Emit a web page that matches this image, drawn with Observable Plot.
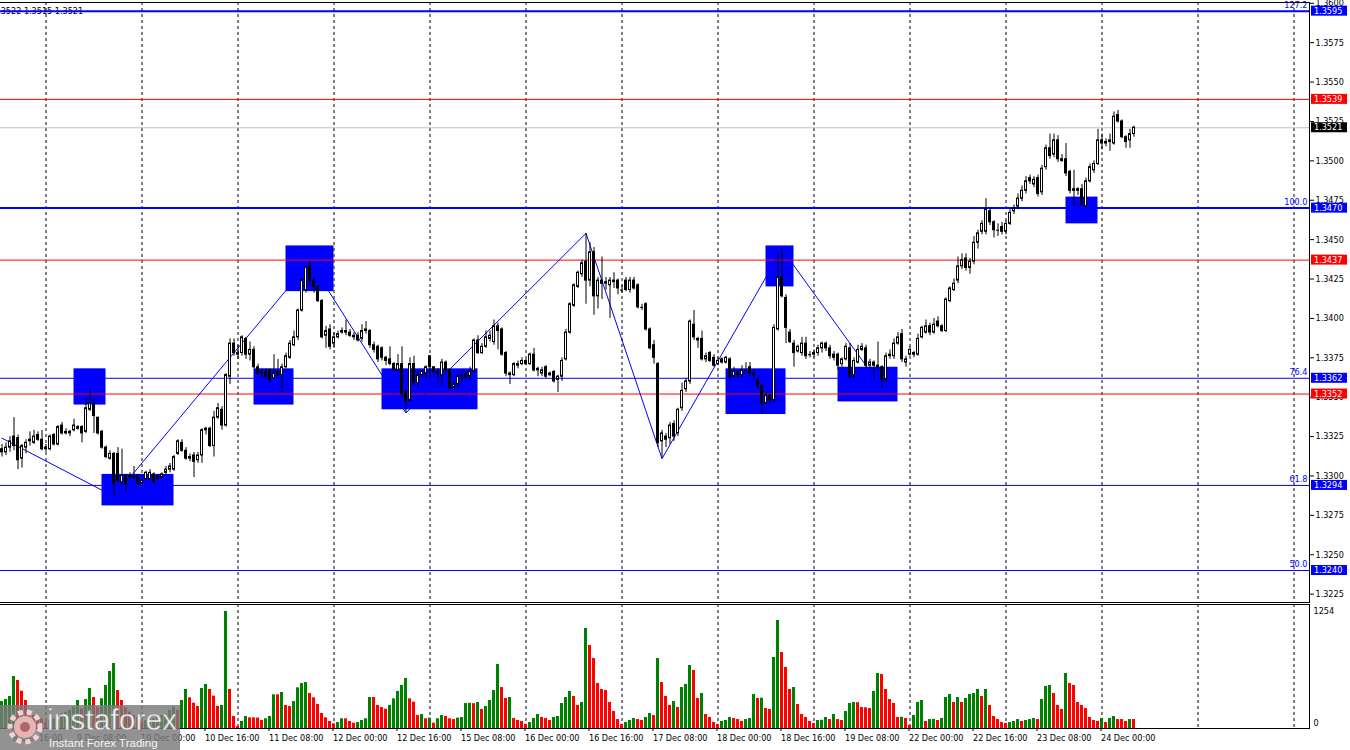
<!DOCTYPE html>
<html><head><meta charset="utf-8">
<script src="https://cdn.jsdelivr.net/npm/d3@7"></script>
<script src="https://cdn.jsdelivr.net/npm/@observablehq/plot@0.6"></script>
<style>
html,body{margin:0;padding:0;background:#fff;overflow:hidden;}
#chart{position:relative;width:1350px;height:750px;}
#chart svg{position:absolute;left:0;}
</style></head><body><div id="chart"></div>
<script>
// ---------- DATA (H1 candles, first bar = 8 Dec 13:00) ----------
const opens = [
1.3317,1.3315,1.3318,1.3325,1.3324,1.3311,1.3318,1.3322,1.3321,1.3326,1.3323,1.3317,
1.3317,1.3326,1.3320,1.3332,1.3327,1.3328,1.3329,1.3331,1.3331,1.3328,1.3342,1.3345,
1.3337,1.3328,1.3318,1.3311,1.3314,1.3314,1.3296,1.3300,1.3299,1.3299,1.3300,1.3295,
1.3298,1.3298,1.3301,1.3298,1.3299,1.3302,1.3304,1.3304,1.3314,1.3321,1.3316,1.3311,
1.3313,1.3310,1.3313,1.3329,1.3330,1.3319,1.3337,1.3342,1.3332,1.3363,1.3384,1.3378,
1.3378,1.3387,1.3377,1.3380,1.3369,1.3365,1.3366,1.3367,1.3362,1.3366,1.3364,1.3369,
1.3375,1.3383,1.3388,1.3405,1.3418,1.3433,1.3424,1.3420,1.3411,1.3389,1.3393,1.3384,
1.3388,1.3391,1.3392,1.3391,1.3389,1.3389,1.3387,1.3393,1.3392,1.3383,1.3382,1.3381,
1.3375,1.3374,1.3371,1.3367,1.3371,1.3353,1.3348,1.3371,1.3359,1.3364,1.3365,1.3376,
1.3369,1.3366,1.3364,1.3372,1.3367,1.3356,1.3358,1.3363,1.3365,1.3363,1.3366,1.3386,
1.3378,1.3382,1.3387,1.3385,1.3395,1.3393,1.3378,1.3365,1.3364,1.3370,1.3371,1.3373,
1.3371,1.3377,1.3368,1.3365,1.3369,1.3365,1.3366,1.3361,1.3363,1.3374,1.3391,1.3408,
1.3420,1.3428,1.3436,1.3424,1.3442,1.3414,1.3424,1.3422,1.3421,1.3424,1.3424,1.3418,
1.3424,1.3418,1.3424,1.3421,1.3407,1.3409,1.3393,1.3383,1.3371,1.3322,1.3325,1.3324,
1.3333,1.3327,1.3343,1.3355,1.3360,1.3396,1.3387,1.3387,1.3374,1.3378,1.3375,1.3371,
1.3374,1.3372,1.3374,1.3363,1.3366,1.3364,1.3367,1.3369,1.3365,1.3361,1.3357,1.3346,
1.3351,1.3348,1.3393,1.3426,1.3413,1.3391,1.3384,1.3379,1.3378,1.3384,1.3377,1.3377,
1.3378,1.3381,1.3384,1.3381,1.3377,1.3377,1.3371,1.3374,1.3381,1.3364,1.3372,1.3380,
1.3381,1.3370,1.3372,1.3370,1.3369,1.3361,1.3376,1.3376,1.3384,1.3390,1.3372,1.3377,
1.3378,1.3377,1.3388,1.3391,1.3395,1.3391,1.3398,1.3395,1.3392,1.3411,1.3418,1.3424,
1.3433,1.3438,1.3432,1.3436,1.3448,1.3455,1.3455,1.3468,1.3461,1.3456,1.3458,1.3455,
1.3460,1.3468,1.3471,1.3476,1.3481,1.3489,1.3485,1.3489,1.3480,1.3496,1.3508,1.3504,
1.3513,1.3501,1.3501,1.3493,1.3482,1.3482,1.3482,1.3471,1.3487,1.3494,1.3498,1.3513,
1.3511,1.3512,1.3511,1.3529,1.3525,1.3515,1.3513,1.3517];
const highs = [
1.3320,1.3321,1.3325,1.3337,1.3326,1.3320,1.3323,1.3328,1.3329,1.3328,1.3329,1.3320,
1.3326,1.3327,1.3332,1.3334,1.3330,1.3329,1.3336,1.3332,1.3332,1.3349,1.3355,1.3349,
1.3337,1.3329,1.3319,1.3316,1.3315,1.3318,1.3317,1.3301,1.3302,1.3306,1.3301,1.3298,
1.3303,1.3304,1.3302,1.3301,1.3302,1.3306,1.3308,1.3313,1.3323,1.3323,1.3318,1.3314,
1.3315,1.3315,1.3330,1.3331,1.3331,1.3341,1.3346,1.3344,1.3365,1.3387,1.3387,1.3383,
1.3389,1.3388,1.3385,1.3382,1.3371,1.3368,1.3368,1.3368,1.3377,1.3374,1.3371,1.3378,
1.3386,1.3392,1.3406,1.3425,1.3434,1.3436,1.3426,1.3421,1.3412,1.3395,1.3396,1.3391,
1.3392,1.3394,1.3399,1.3393,1.3391,1.3391,1.3396,1.3398,1.3393,1.3385,1.3383,1.3382,
1.3376,1.3382,1.3372,1.3377,1.3382,1.3354,1.3375,1.3376,1.3366,1.3367,1.3370,1.3376,
1.3369,1.3368,1.3374,1.3373,1.3368,1.3360,1.3364,1.3366,1.3366,1.3369,1.3387,1.3389,
1.3384,1.3392,1.3392,1.3399,1.3397,1.3394,1.3379,1.3366,1.3372,1.3373,1.3375,1.3374,
1.3378,1.3381,1.3369,1.3369,1.3370,1.3366,1.3367,1.3364,1.3375,1.3393,1.3410,1.3422,
1.3430,1.3437,1.3454,1.3448,1.3445,1.3426,1.3439,1.3426,1.3426,1.3429,1.3425,1.3421,
1.3426,1.3426,1.3426,1.3422,1.3409,1.3410,1.3394,1.3386,1.3372,1.3329,1.3327,1.3334,
1.3335,1.3343,1.3359,1.3362,1.3399,1.3405,1.3388,1.3392,1.3378,1.3379,1.3377,1.3375,
1.3375,1.3376,1.3375,1.3369,1.3367,1.3370,1.3372,1.3372,1.3367,1.3363,1.3358,1.3353,
1.3352,1.3396,1.3442,1.3444,1.3415,1.3393,1.3386,1.3383,1.3388,1.3388,1.3379,1.3380,
1.3383,1.3385,1.3385,1.3383,1.3379,1.3378,1.3375,1.3384,1.3384,1.3375,1.3383,1.3384,
1.3383,1.3374,1.3373,1.3385,1.3370,1.3378,1.3380,1.3387,1.3391,1.3393,1.3376,1.3382,
1.3379,1.3390,1.3395,1.3399,1.3397,1.3400,1.3401,1.3396,1.3413,1.3420,1.3425,1.3439,
1.3441,1.3441,1.3438,1.3452,1.3456,1.3462,1.3476,1.3470,1.3462,1.3460,1.3461,1.3462,
1.3469,1.3472,1.3479,1.3484,1.3490,1.3491,1.3490,1.3491,1.3497,1.3510,1.3517,1.3517,
1.3516,1.3504,1.3511,1.3494,1.3494,1.3483,1.3485,1.3489,1.3498,1.3500,1.3520,1.3517,
1.3514,1.3517,1.3531,1.3532,1.3526,1.3516,1.3520,1.3522];
const lows = [
1.3312,1.3313,1.3315,1.3316,1.3304,1.3305,1.3314,1.3319,1.3320,1.3322,1.3316,1.3315,
1.3316,1.3319,1.3319,1.3326,1.3326,1.3325,1.3328,1.3329,1.3321,1.3327,1.3341,1.3327,
1.3326,1.3317,1.3311,1.3310,1.3287,1.3295,1.3294,1.3290,1.3298,1.3298,1.3294,1.3294,
1.3297,1.3297,1.3295,1.3297,1.3298,1.3301,1.3302,1.3303,1.3313,1.3315,1.3310,1.3309,
1.3299,1.3308,1.3308,1.3326,1.3318,1.3312,1.3336,1.3329,1.3331,1.3358,1.3376,1.3374,
1.3376,1.3374,1.3373,1.3368,1.3364,1.3362,1.3361,1.3359,1.3361,1.3363,1.3353,1.3368,
1.3374,1.3382,1.3386,1.3404,1.3416,1.3420,1.3416,1.3410,1.3387,1.3381,1.3380,1.3381,
1.3387,1.3390,1.3389,1.3388,1.3386,1.3385,1.3385,1.3390,1.3381,1.3378,1.3372,1.3373,
1.3370,1.3370,1.3366,1.3366,1.3350,1.3340,1.3347,1.3357,1.3356,1.3362,1.3362,1.3361,
1.3363,1.3359,1.3357,1.3365,1.3354,1.3354,1.3356,1.3359,1.3361,1.3361,1.3365,1.3377,
1.3377,1.3381,1.3385,1.3383,1.3380,1.3376,1.3363,1.3358,1.3363,1.3368,1.3370,1.3370,
1.3370,1.3366,1.3363,1.3363,1.3362,1.3363,1.3359,1.3353,1.3360,1.3373,1.3390,1.3407,
1.3419,1.3426,1.3409,1.3420,1.3402,1.3406,1.3412,1.3418,1.3400,1.3419,1.3415,1.3416,
1.3417,1.3416,1.3418,1.3406,1.3405,1.3392,1.3380,1.3371,1.3318,1.3311,1.3318,1.3320,
1.3322,1.3325,1.3341,1.3353,1.3358,1.3386,1.3381,1.3373,1.3372,1.3372,1.3369,1.3370,
1.3371,1.3371,1.3360,1.3362,1.3362,1.3362,1.3365,1.3363,1.3361,1.3355,1.3339,1.3345,
1.3345,1.3346,1.3392,1.3413,1.3384,1.3384,1.3369,1.3378,1.3376,1.3374,1.3375,1.3375,
1.3376,1.3378,1.3379,1.3374,1.3373,1.3367,1.3369,1.3373,1.3361,1.3362,1.3371,1.3379,
1.3368,1.3368,1.3361,1.3367,1.3356,1.3359,1.3374,1.3374,1.3383,1.3372,1.3369,1.3376,
1.3375,1.3376,1.3387,1.3390,1.3389,1.3390,1.3394,1.3391,1.3391,1.3410,1.3417,1.3422,
1.3431,1.3430,1.3428,1.3434,1.3444,1.3453,1.3453,1.3459,1.3451,1.3452,1.3453,1.3453,
1.3459,1.3466,1.3469,1.3474,1.3479,1.3485,1.3483,1.3477,1.3478,1.3494,1.3501,1.3502,
1.3499,1.3499,1.3490,1.3479,1.3471,1.3478,1.3471,1.3470,1.3486,1.3492,1.3497,1.3507,
1.3509,1.3506,1.3510,1.3524,1.3514,1.3508,1.3508,1.3515];
const closes = [
1.3315,1.3318,1.3322,1.3319,1.3310,1.3319,1.3321,1.3323,1.3325,1.3323,1.3317,1.3318,
1.3325,1.3320,1.3331,1.3327,1.3328,1.3327,1.3332,1.3330,1.3327,1.3343,1.3346,1.3338,
1.3327,1.3318,1.3312,1.3314,1.3295,1.3297,1.3300,1.3295,1.3300,1.3300,1.3295,1.3297,
1.3302,1.3302,1.3296,1.3299,1.3301,1.3304,1.3306,1.3312,1.3322,1.3316,1.3311,1.3312,
1.3309,1.3313,1.3329,1.3330,1.3319,1.3337,1.3343,1.3332,1.3364,1.3384,1.3378,1.3377,
1.3388,1.3377,1.3380,1.3369,1.3365,1.3366,1.3363,1.3361,1.3365,1.3364,1.3369,1.3376,
1.3384,1.3388,1.3405,1.3424,1.3432,1.3424,1.3420,1.3411,1.3388,1.3392,1.3382,1.3388,
1.3390,1.3392,1.3391,1.3389,1.3388,1.3386,1.3392,1.3392,1.3383,1.3380,1.3374,1.3375,
1.3373,1.3371,1.3367,1.3371,1.3352,1.3347,1.3371,1.3359,1.3364,1.3366,1.3369,1.3369,
1.3366,1.3365,1.3372,1.3367,1.3356,1.3358,1.3363,1.3364,1.3363,1.3366,1.3386,1.3378,
1.3382,1.3388,1.3389,1.3395,1.3392,1.3377,1.3365,1.3364,1.3371,1.3371,1.3373,1.3371,
1.3377,1.3367,1.3367,1.3367,1.3363,1.3364,1.3360,1.3363,1.3373,1.3391,1.3409,1.3421,
1.3429,1.3435,1.3424,1.3442,1.3414,1.3424,1.3422,1.3423,1.3424,1.3423,1.3419,1.3418,
1.3418,1.3424,1.3419,1.3407,1.3407,1.3393,1.3381,1.3375,1.3321,1.3327,1.3323,1.3332,
1.3325,1.3342,1.3354,1.3360,1.3398,1.3388,1.3386,1.3374,1.3376,1.3373,1.3370,1.3373,
1.3372,1.3375,1.3363,1.3366,1.3364,1.3367,1.3367,1.3365,1.3364,1.3357,1.3346,1.3351,
1.3348,1.3394,1.3426,1.3414,1.3394,1.3385,1.3378,1.3382,1.3384,1.3376,1.3377,1.3378,
1.3381,1.3384,1.3381,1.3376,1.3375,1.3370,1.3374,1.3382,1.3363,1.3373,1.3380,1.3382,
1.3370,1.3372,1.3370,1.3369,1.3361,1.3376,1.3377,1.3384,1.3388,1.3374,1.3374,1.3380,
1.3377,1.3387,1.3394,1.3395,1.3391,1.3396,1.3395,1.3392,1.3412,1.3419,1.3422,1.3433,
1.3437,1.3432,1.3436,1.3448,1.3454,1.3460,1.3469,1.3461,1.3456,1.3456,1.3455,1.3460,
1.3467,1.3470,1.3476,1.3481,1.3487,1.3487,1.3488,1.3479,1.3495,1.3508,1.3503,1.3513,
1.3501,1.3500,1.3492,1.3481,1.3481,1.3481,1.3472,1.3487,1.3496,1.3498,1.3513,1.3511,
1.3512,1.3513,1.3528,1.3525,1.3515,1.3512,1.3517,1.3521];
const volumes = [
289,311,343,557,515,400,300,193,139,121,104,68,
86,104,139,157,175,193,229,300,211,311,429,332,
229,318,461,611,697,407,300,222,175,139,121,68,
86,93,104,121,139,157,193,229,193,300,418,329,
272,236,429,472,418,347,236,247,1254,418,129,21,
75,129,114,114,112,86,104,129,361,361,386,247,
236,289,436,482,493,375,329,257,161,114,75,50,
64,104,104,75,57,64,86,104,332,332,247,225,
207,247,318,397,461,536,318,282,139,150,104,111,
57,104,139,129,104,96,111,118,268,270,266,279,
204,236,300,407,686,439,322,332,107,86,75,43,
64,107,150,118,107,86,118,129,268,332,397,343,
247,279,1072,890,750,482,418,407,279,182,96,43,
64,86,107,96,86,118,161,139,750,493,343,247,
289,225,439,472,675,622,322,375,150,118,64,43,
75,86,118,107,96,75,96,107,364,322,325,214,
204,761,1158,815,654,418,439,257,150,118,75,54,
86,88,118,96,150,96,86,182,268,279,277,225,
222,214,397,590,579,418,311,268,118,120,107,32,
139,279,300,75,96,98,86,107,332,364,279,332,
279,322,364,375,418,343,418,247,129,96,64,54,
64,75,96,75,86,96,107,96,311,450,461,375,
247,204,590,482,461,279,247,214,118,86,75,107,
64,107,129,96,96,75,96,96];

// price axis ticks and x-axis labels
const priceTicks = [1.3225,1.3250,1.3275,1.3300,1.3325,1.3350,1.3375,1.3400,1.3425,1.3450,1.3475,1.3500,1.3525,1.3550,1.3575,1.3600];
const volumeMax = 1254;
const volumeMin = 0;
const timeLabels = ["8 Dec 16:00","9 Dec 08:00","10 Dec 00:00","10 Dec 16:00","11 Dec 08:00","12 Dec 00:00","12 Dec 16:00","15 Dec 08:00","16 Dec 00:00","16 Dec 16:00","17 Dec 08:00","18 Dec 00:00","18 Dec 16:00","19 Dec 08:00","22 Dec 00:00","22 Dec 16:00","23 Dec 08:00","24 Dec 00:00"];

// levels
const fiboLevels = [1.3595, 1.3470, 1.3362, 1.3294, 1.3240];
const fiboNames = ["127.2", "100.0", "76.4", "61.8", "50.0"];
const srLevels = [1.3539, 1.3437, 1.3352];
const bidPrice = 1.3521;
const infoText = "1.3522 1.3515 1.3521";

// rectangles
const boxFrom = ["9 Dec 07:00","9 Dec 14:00","11 Dec 12:00","11 Dec 04:00","12 Dec 12:00","18 Dec 02:00","18 Dec 12:00","19 Dec 06:00","23 Dec 15:00"];
const boxTo   = ["9 Dec 15:00","10 Dec 08:00","12 Dec 00:00","11 Dec 14:00","15 Dec 12:00","18 Dec 17:00","18 Dec 19:00","19 Dec 21:00","23 Dec 23:00"];
const boxHigh = [1.3368,1.3301,1.3446,1.3368,1.3368,1.3368,1.3446,1.3369,1.3477];
const boxLow  = [1.3345,1.3281,1.3417,1.3345,1.3342,1.3339,1.3420,1.3347,1.3460];

// zigzag
const zzTimes  = ["8 Dec 13:00","9 Dec 17:00","11 Dec 18:00","12 Dec 18:00","16 Dec 15:00","17 Dec 10:00","18 Dec 16:00","19 Dec 17:00"];
const zzPrices = [1.3324, 1.3287, 1.3436, 1.3340, 1.3454, 1.3311, 1.3444, 1.3356];

// ---------- TIME SLOTS (H1, weekends skipped) ----------
const MON = ["Jan","Feb","Mar","Apr","May","Jun","Jul","Aug","Sep","Oct","Nov","Dec"];
function genSlots(n) {
  const out = [];
  let t = Date.UTC(2025, 11, 8, 13);
  while (out.length < n) {
    const d = new Date(t);
    const wd = d.getUTCDay();
    if (wd !== 0 && wd !== 6) out.push(`${d.getUTCDate()} ${MON[d.getUTCMonth()]} ${String(d.getUTCHours()).padStart(2,"0")}:00`);
    t += 3600e3;
  }
  return out;
}
const slots = genSlots(330);
const idx = new Map(slots.map((s, i) => [s, i]));
const gridIdx = slots.map((s, i) => s.endsWith(" 00:00") ? i : null).filter(i => i !== null);
const labelIdx = timeLabels.map(s => idx.get(s));

const candles = closes.map((c, i) => ({i, o: opens[i], h: highs[i], l: lows[i], c}));
const bars = volumes.map((v, i) => ({i, v, up: i === 0 || v > volumes[i - 1]}));
const boxes = boxFrom.map((f, j) => ({x1: idx.get(f), x2: idx.get(boxTo[j]), hi: boxHigh[j], lo: boxLow[j]}));
const zz = zzTimes.map((t, j) => ({x: idx.get(t), p: zzPrices[j]}));
const fibo = fiboLevels.map((p, j) => ({p, name: fiboNames[j]}));

// ---------- STYLE ----------
const FONT = "'DejaVu Sans Condensed','Liberation Sans',Arial,sans-serif";
const BLUE = "#0000ff", RED = "#ff0000", GREEN = "#008000";
const X = {domain: [-0.375, 326.875], axis: null};
const fmt = d3.format(".4f");

const price = Plot.plot({
  width: 1350, height: 603,
  marginLeft: 0, marginRight: 41, marginTop: 2, marginBottom: 1,
  x: X,
  y: {domain: [1.32197, 1.36005], axis: null, label: null},
  style: {background: "transparent", fontFamily: FONT, fontSize: "9px", color: "#000", overflow: "visible"},
  marks: [
    Plot.ruleX(gridIdx, {x: d => d, stroke: "#000", strokeDasharray: "3,3", strokeWidth: 1}),
    Plot.rect(boxes, {x1: "x1", x2: "x2", y1: "lo", y2: "hi", fill: BLUE}),
    Plot.text([infoText], {frameAnchor: "top-left", dx: -7.5, dy: 8.7, textAnchor: "start", lineAnchor: "middle", text: d => d, fill: "#000"}),
    Plot.ruleY(srLevels, {y: d => d, stroke: RED, strokeWidth: 1}),
    Plot.ruleY([bidPrice], {y: d => d, stroke: "#c0c0c0", strokeWidth: 1}),
    Plot.ruleY(fibo, {y: "p", stroke: BLUE, strokeWidth: d => (d.name === "127.2" || d.name === "100.0") ? 2 : 1}),
    Plot.text(fibo, {y: "p", text: "name", frameAnchor: "right", textAnchor: "end", dx: -2, dy: -6, fill: BLUE, lineAnchor: "middle"}),
    Plot.line(zz, {x: "x", y: "p", stroke: BLUE, strokeWidth: 1}),
    Plot.ruleX(candles, {x: "i", y1: "l", y2: "h", stroke: "#000", strokeWidth: 1}),
    Plot.rect(candles.filter(d => d.o !== d.c), {
      x1: d => d.i - 0.25, x2: d => d.i + 0.25,
      y1: d => Math.min(d.o, d.c), y2: d => Math.max(d.o, d.c),
      fill: d => d.c > d.o ? "#fff" : "#000", stroke: "#000", strokeWidth: 1
    }),
    Plot.ruleY(candles.filter(d => d.o === d.c), {y: "c", x1: d => d.i - 0.375, x2: d => d.i + 0.375, stroke: "#000"}),
    Plot.axisY(priceTicks, {anchor: "right", tickSize: 4, tickPadding: 2, tickFormat: fmt, stroke: "#000", label: null})
  ]
});
price.style.top = "0px";

const vol = Plot.plot({
  width: 1350, height: 148,
  marginLeft: 0, marginRight: 41, marginTop: 2, marginBottom: 22,
  x: X,
  y: {domain: [0, volumeMax * 124 / 117], axis: null, label: null},
  style: {background: "transparent", fontFamily: FONT, fontSize: "9px", color: "#000", overflow: "visible"},
  marks: [
    Plot.ruleX(gridIdx, {x: d => d, stroke: "#000", strokeDasharray: "3,3", strokeWidth: 1}),
    Plot.rect(bars, {x1: d => d.i - 0.375, x2: d => d.i + 0.375, y1: 0, y2: "v", fill: d => d.up ? GREEN : RED}),
    Plot.text([volumeMax], {y: d => d, frameAnchor: "right", dx: 4, textAnchor: "start", lineAnchor: "middle", text: d => String(d), fill: "#000"}),
    Plot.text([volumeMin], {y: d => d, frameAnchor: "right", dx: 4, dy: -5, textAnchor: "start", lineAnchor: "middle", text: d => String(d), fill: "#000"}),
    Plot.axisX(labelIdx, {anchor: "bottom", tickSize: 3, tickPadding: 3, tickFormat: i => slots[i], textAnchor: "start", dx: -1, label: null})
  ]
});
vol.style.top = "602px";

const chart = document.getElementById("chart");
chart.appendChild(price);
chart.appendChild(vol);

// frames and price tags drawn with the plots' own scales
const px = price.scale("x"), py = price.scale("y");
const sp = d3.select(price);
const xR = px.apply(326.875);
const yTop = py.apply(1.36005), yBot = py.apply(1.32197);
sp.append("line").attr("x1", 0).attr("x2", xR + 0.5).attr("y1", yTop + 0.5).attr("y2", yTop + 0.5).attr("stroke", "#000");
sp.append("line").attr("x1", 0).attr("x2", xR + 0.5).attr("y1", yBot + 0.5).attr("y2", yBot + 0.5).attr("stroke", "#000");
sp.append("line").attr("x1", xR + 0.5).attr("x2", xR + 0.5).attr("y1", yTop).attr("y2", yBot + 1).attr("stroke", "#000");

const tags = [
  ...fiboLevels.map(p => ({p, fill: BLUE})),
  ...srLevels.map(p => ({p, fill: RED})),
  {p: bidPrice, fill: "#000"}
];
const tg = sp.append("g").attr("font-family", FONT).attr("font-size", "9px").attr("text-anchor", "start");
for (const t of tags) {
  const y = py.apply(t.p);
  tg.append("rect").attr("x", xR + 2).attr("y", y - 5).attr("width", 36).attr("height", 10).attr("fill", t.fill);
  tg.append("text").attr("x", xR + 5).attr("y", y).attr("dy", "0.35em").attr("fill", "#fff").attr("text-anchor", "start").text(fmt(t.p));
}

const vy = vol.scale("y");
const sv = d3.select(vol);
const vTop = 2, vBot = vy.apply(0);
sv.append("line").attr("x1", 0).attr("x2", xR + 0.5).attr("y1", vTop + 0.5).attr("y2", vTop + 0.5).attr("stroke", "#000");
sv.append("line").attr("x1", 0).attr("x2", xR + 0.5).attr("y1", vBot + 0.5).attr("y2", vBot + 0.5).attr("stroke", "#000");
sv.append("line").attr("x1", xR + 0.5).attr("x2", xR + 0.5).attr("y1", vTop).attr("y2", vBot + 1).attr("stroke", "#000");

// watermark
const wm = sv.append("g").attr("text-anchor", "start");
wm.append("rect").attr("x", 0).attr("y", 103).attr("width", 180).attr("height", 45).attr("fill", "#7a7a7a").attr("opacity", 0.82);
const gear = wm.append("g").attr("transform", "translate(25,125)");
gear.append("circle").attr("r", 15).attr("fill", "none").attr("stroke", "#f2d2d2").attr("stroke-width", 5).attr("stroke-dasharray", "5,4");
gear.append("circle").attr("r", 11).attr("fill", "#e8b4b4");
gear.append("circle").attr("r", 5).attr("fill", "#a86a6a");
wm.append("text").attr("x", 47).attr("y", 128).attr("text-anchor", "start").attr("font-family", "'Liberation Sans',Arial,sans-serif").attr("font-size", 30).attr("fill", "#f4f4f4").attr("stroke", "#8a8a8a").attr("stroke-width", 0.6).text("instaforex");
wm.append("text").attr("x", 49).attr("y", 145).attr("text-anchor", "start").attr("font-family", "'Liberation Sans',Arial,sans-serif").attr("font-size", 11.5).attr("fill", "#f4f4f4").text("Instant Forex Trading");
</script></body></html>
